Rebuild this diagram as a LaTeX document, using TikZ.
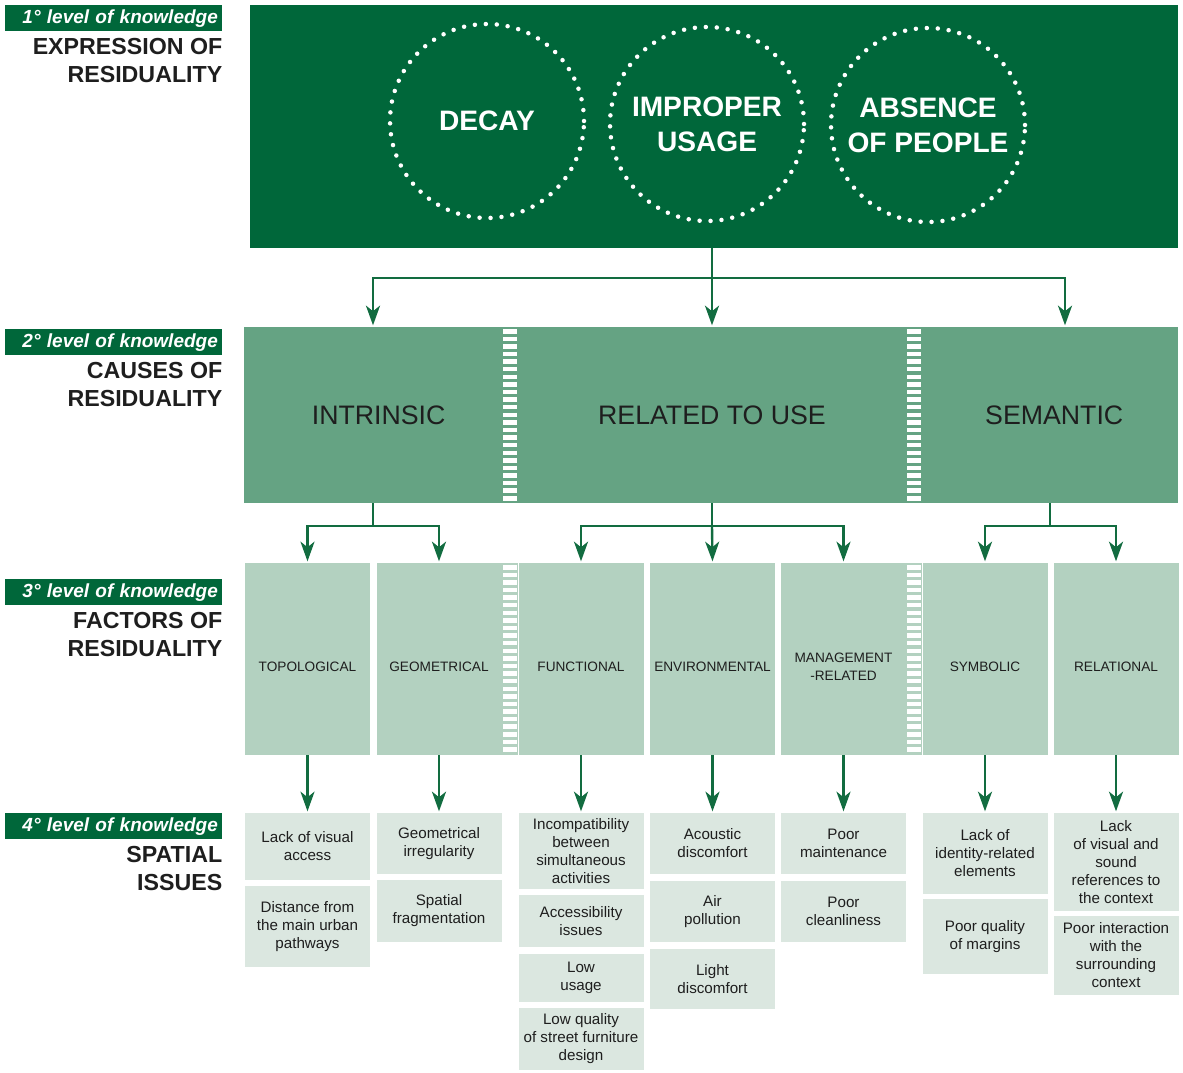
\documentclass[tikz,border=0pt]{standalone}
\usepackage{fontspec}
\setmainfont{Liberation Sans}
\usetikzlibrary{arrows.meta,calc,positioning}
\definecolor{darkgreen}{RGB}{0,103,58}
\definecolor{midgreen}{RGB}{101,163,131}
\definecolor{lightgreen}{RGB}{179,209,192}
\definecolor{palegreen}{RGB}{219,231,224}
\definecolor{arrowgreen}{RGB}{18,108,64}
\definecolor{textgray}{RGB}{30,30,30}

\tikzset{
  sz/.style 2 args={minimum width=#1*0.025cm, minimum height=#2*0.025cm},
  levelbar/.style={rectangle, fill=darkgreen, anchor=north west, inner xsep=3pt, inner ysep=0pt, text width=148pt, align=right, text=white, font=\bfseries\itshape\fontsize{13.5}{15}\selectfont},
  heading/.style={inner sep=0pt, align=right, text=textgray, font=\bfseries\fontsize{16.5}{20}\selectfont},
  circ/.style={circle, draw=white, line width=3.2pt, dash pattern=on 0pt off 7.8pt, line cap=round, minimum size=194*0.025cm, inner sep=0pt, text=white, align=center, font=\bfseries\fontsize{20}{25}\selectfont},
  causebox/.style={rectangle, fill=midgreen, inner sep=0pt, text=textgray, font=\fontsize{19}{22}\selectfont},
  factorbox/.style={rectangle, fill=lightgreen, inner sep=0pt, text=textgray, align=center, font=\fontsize{9.7}{12.8}\selectfont, sz={125}{192}, text height=18pt, text depth=0pt},
  issuebox/.style={rectangle, fill=palegreen, inner sep=0pt, text=textgray, align=center, font=\fontsize{10.8}{12.8}\selectfont, minimum width=125*0.025cm},
  link/.style={draw=arrowgreen, line width=1.7pt},
  arr/.style={link, -{Stealth[length=14pt, width=10pt, inset=4pt]}, shorten >=1pt},
  stripes/.style={white, line width=10pt, dash pattern=on 3.2pt off 2.2pt}
}

\begin{document}
\begin{tikzpicture}[x=0.025cm, y=-0.025cm]
\useasboundingbox (0,0) rectangle (1183,1072);

% left column: levels of knowledge
\node[levelbar, sz={217}{26}] (lab1) at (5,5) {1° level of knowledge};
\node[heading, below=4.3pt of lab1.south east, anchor=north east] (head1) {EXPRESSION OF\\RESIDUALITY};
\node[levelbar, sz={217}{26}] (lab2) at (5,329) {2° level of knowledge};
\node[heading, below=4.3pt of lab2.south east, anchor=north east] (head2) {CAUSES OF\\RESIDUALITY};
\node[levelbar, sz={217}{26}] (lab3) at (5,579) {3° level of knowledge};
\node[heading, below=4.3pt of lab3.south east, anchor=north east] (head3) {FACTORS OF\\RESIDUALITY};
\node[levelbar, sz={217}{26}] (lab4) at (5,813) {4° level of knowledge};
\node[heading, below=4.3pt of lab4.south east, anchor=north east] (head4) {SPATIAL\\ISSUES};

% 1st level
\node[rectangle, fill=darkgreen, inner sep=0pt, sz={928}{243}] (expr) at (714,126.5) {};
\node[circ] (decay) at (487,121) {DECAY};
\node[circ] (improper) at (707,124) {IMPROPER\\USAGE};
\node[circ] (absence) at (928,125) {ABSENCE\\OF PEOPLE};

% 2nd level
\node[causebox, sz={258}{176}] (intrinsic) at (373,415) {\hspace*{8pt}INTRINSIC};
\node[causebox, sz={388}{176}] (use) at (712,415) {RELATED TO USE};
\node[causebox, sz={256}{176}] (semantic) at (1050,415) {\hspace*{6pt}SEMANTIC};
\foreach \sx in {510,914} {
  \fill[midgreen] (\sx-8,327) rectangle (\sx+8,503);
  \draw[stripes] (\sx,329) -- (\sx,503);
}

% 3rd level
\node[factorbox] (topo) at (307.5,659) {TOPOLOGICAL};
\node[factorbox] (geom) at (439,659) {GEOMETRICAL};
\node[factorbox] (func) at (581,659) {FUNCTIONAL};
\node[factorbox] (env) at (712.5,659) {ENVIRONMENTAL};
\node[factorbox, text height=31pt] (mgmt) at (843.5,659) {MANAGEMENT\\-RELATED};
\node[factorbox] (symb) at (985,659) {SYMBOLIC};
\node[factorbox] (rel) at (1116,659) {RELATIONAL};
\foreach \sx in {510,914} {
  \fill[lightgreen] (\sx-8,563) rectangle (\sx+8,755);
  \draw[stripes] (\sx,565) -- (\sx,755);
}

% 4th level
\node[issuebox, minimum height=67*0.025cm] (topo1) at (307.5,846.5) {Lack of visual\\access};
\node[issuebox, minimum height=81*0.025cm] (topo2) at (307.5,926.5) {Distance from\\the main urban\\pathways};
\node[issuebox, minimum height=61*0.025cm] (geom1) at (439,843.5) {Geometrical\\irregularity};
\node[issuebox, minimum height=62*0.025cm] (geom2) at (439,911) {Spatial\\fragmentation};
\node[issuebox, minimum height=76*0.025cm] (func1) at (581,851) {Incompatibility\\between\\simultaneous\\activities};
\node[issuebox, minimum height=52*0.025cm] (func2) at (581,921) {Accessibility\\issues};
\node[issuebox, minimum height=48*0.025cm] (func3) at (581,978) {Low\\usage};
\node[issuebox, minimum height=62*0.025cm] (func4) at (581,1039) {Low quality\\of street furniture\\design};
\node[issuebox, minimum height=61*0.025cm] (env1) at (712.5,843.5) {Acoustic\\discomfort};
\node[issuebox, minimum height=61*0.025cm] (env2) at (712.5,911.5) {Air\\pollution};
\node[issuebox, minimum height=60*0.025cm] (env3) at (712.5,979) {Light\\discomfort};
\node[issuebox, minimum height=61*0.025cm] (mgmt1) at (843.5,843.5) {Poor\\maintenance};
\node[issuebox, minimum height=61*0.025cm] (mgmt2) at (843.5,911.5) {Poor\\cleanliness};
\node[issuebox, minimum height=81*0.025cm] (symb1) at (985,853.5) {Lack of\\identity-related\\elements};
\node[issuebox, minimum height=75*0.025cm] (symb2) at (985,936.5) {Poor quality\\of margins};
\node[issuebox, minimum height=98*0.025cm] (rel1) at (1116,862) {Lack\\of visual and\\sound\\references to\\the context};
\node[issuebox, minimum height=79*0.025cm] (rel2) at (1116,955.5) {Poor interaction\\with the\\surrounding\\context};

% connectors 1 -> 2
\coordinate (fork1) at (712,278);
\draw[link] (expr.south -| fork1) -- (fork1);
\draw[arr] (fork1) -| (intrinsic.north);
\draw[arr] (fork1) -- (use.north);
\draw[arr] (fork1) -| ($(semantic.north)+(15,0)$);

% connectors 2 -> 3
\coordinate (fork2) at (373,526);
\coordinate (fork3) at (712,526);
\coordinate (fork4) at (1050,526);
\draw[link] (intrinsic.south) -- (fork2);
\draw[arr] (fork2) -| (topo.north);
\draw[arr] (fork2) -| (geom.north);
\draw[link] (use.south) -- (fork3);
\draw[arr] (fork3) -| (func.north);
\draw[arr] (fork3) -- (env.north);
\draw[arr] (fork3) -| (mgmt.north);
\draw[link] (semantic.south) -- (fork4);
\draw[arr] (fork4) -| (symb.north);
\draw[arr] (fork4) -| (rel.north);

% connectors 3 -> 4
\foreach \f in {topo,geom,func,env,mgmt,symb,rel}
  \draw[arr] (\f.south) -- (\f1.north);
\end{tikzpicture}
\end{document}
